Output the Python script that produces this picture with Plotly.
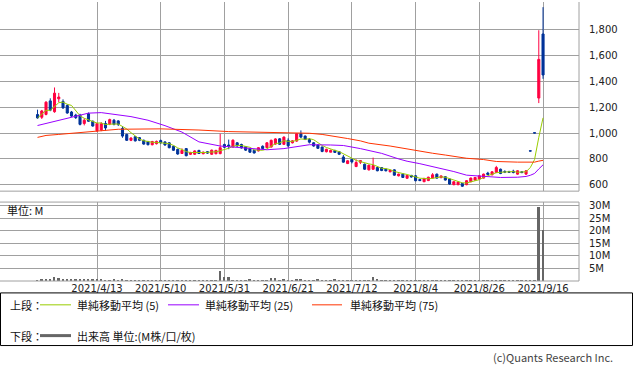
import pandas as pd
import plotly.graph_objects as go

# ---- trading days (Tokyo market, holidays removed) ----
holidays = ["2021-04-29", "2021-05-03", "2021-05-04", "2021-05-05",
            "2021-07-22", "2021-07-23", "2021-08-09"]
days = [d for d in pd.bdate_range("2021-03-24", "2021-09-16").strftime("%Y-%m-%d")
        if d not in holidays]

# ---- OHLC ----
opens = [1144, 1123, 1145, 1250, 1166, 1266, 1246, 1214, 1164, 1140, 1140, 1075, 1150, 1092,
         1018, 1025, 1075, 1070, 1100, 1095, 1036, 990, 944, 972, 965, 944, 935, 910, 918, 942,
         932, 925, 898, 874, 842, 880, 836, 836, 866, 840, 856, 836, 840, 841, 912, 908,
         892, 925, 912, 895, 880, 866, 862, 898, 888, 892, 915, 956, 913, 944, 925, 938,
         995, 977, 951, 925, 908, 892, 856, 852, 866, 856, 815, 764, 797, 741, 774, 759,
         715, 720, 733, 733, 720, 700, 715, 669, 682, 650, 672, 669, 640, 623, 632, 651,
         682, 655, 662, 644, 600, 600, 610, 600, 623, 636, 644, 651, 690, 677, 695, 720,
         702, 702, 705, 682, 700, 682, 863, 1003, 1272, 1769]
highs = [1182, 1180, 1248, 1270, 1354, 1312, 1262, 1224, 1172, 1150, 1150, 1115, 1160, 1098,
         1080, 1085, 1095, 1112, 1110, 1100, 1054, 995, 968, 978, 970, 950, 940, 940, 942, 950,
         936, 930, 902, 880, 882, 884, 855, 866, 870, 858, 860, 872, 870, 995, 918, 950,
         952, 930, 918, 900, 884, 870, 892, 905, 930, 950, 960, 962, 975, 960, 945, 1000,
         1021, 982, 962, 930, 912, 896, 880, 872, 870, 860, 830, 790, 800, 797, 787, 764,
         756, 810, 738, 736, 724, 716, 720, 686, 688, 676, 676, 674, 645, 652, 662, 690,
         686, 672, 666, 648, 627, 625, 614, 636, 656, 660, 674, 686, 700, 704, 746, 725,
         712, 708, 716, 712, 705, 712, 863, 1003, 1798, 1977]
lows = [1112, 1110, 1138, 1170, 1158, 1240, 1188, 1150, 1125, 1110, 1060, 1060, 1088, 1050,
        1010, 1015, 1020, 1062, 1060, 1055, 964, 940, 938, 935, 938, 910, 905, 905, 912, 915,
        902, 882, 862, 832, 838, 820, 830, 832, 838, 836, 840, 832, 836, 836, 885, 875,
        888, 895, 880, 862, 846, 842, 858, 875, 884, 888, 910, 908, 908, 890, 920, 932,
        962, 946, 920, 895, 878, 852, 850, 852, 850, 830, 770, 760, 765, 736, 760, 715,
        710, 715, 704, 705, 703, 696, 670, 664, 652, 646, 655, 626, 628, 620, 628, 648,
        646, 650, 632, 600, 596, 596, 584, 596, 620, 632, 640, 648, 675, 672, 690, 682,
        690, 692, 688, 678, 690, 678, 861, 1001, 1233, 1421]
closes = [1118, 1172, 1240, 1178, 1310, 1280, 1196, 1156, 1132, 1120, 1068, 1100, 1092, 1055,
          1075, 1072, 1040, 1105, 1068, 1068, 977, 944, 962, 940, 944, 915, 910, 935, 936, 926,
          908, 887, 867, 838, 866, 825, 850, 862, 842, 852, 845, 868, 866, 887, 890, 900,
          945, 900, 885, 868, 852, 846, 887, 880, 925, 944, 955, 913, 969, 902, 940, 995,
          969, 951, 930, 900, 882, 858, 874, 866, 850, 836, 775, 785, 777, 772, 787, 720,
          751, 748, 708, 710, 708, 712, 674, 682, 656, 672, 660, 631, 632, 649, 658, 677,
          651, 668, 636, 605, 623, 620, 588, 631, 651, 656, 669, 682, 680, 700, 733, 687,
          698, 696, 695, 708, 694, 708, 861, 1001, 1572, 1451]

# ---- volume, millions ----
volume = [0.3, 0.6, 0.8, 0.8, 1.5, 1.1, 0.9, 0.8, 0.7, 0.7, 0.6, 0.6, 0.5, 0.4,
          0.5, 0.4, 0.3, 0.2, 0.5, 0.3, 0.5, 0.2, 0.1, 0.1, 0.1, 0.1, 0.1, 0.1, 0.1, 0.1,
          0.1, 0.1, 0.1, 0.1, 0.1, 0.1, 0.1, 0.1, 0.1, 0.1, 0.2, 0.3, 0.2, 3.8, 1.5, 1.4,
          0.3, 0.2, 0.2, 0.2, 0.5, 0.2, 0.1, 0.1, 0.1, 1.0, 1.0, 0.3, 0.5, 0.2, 0.2, 0.5,
          0.5, 0.3, 0.2, 0.2, 0.9, 0.3, 0.2, 0.2, 0.5, 0.2, 0.2, 0.2, 0.2, 0.2, 0.2, 0.2,
          0.2, 1.4, 0.6, 0.2, 0.1, 0.1, 0.1, 0.1, 0.1, 0.1, 0.1, 0.1, 0.1, 0.1, 0.1, 0.1,
          0.1, 0.1, 0.1, 0.1, 0.1, 0.1, 0.1, 0.1, 0.1, 0.1, 0.1, 0.1, 0.1, 0.1, 0.1, 0.1,
          0.1, 0.1, 0.1, 0.1, 0.1, 0.1, 0.2, 0.3, 29.3, 20.1]

# ---- moving averages 25 / 75 (read at sample days) ----
ma25_days = ["2021-03-24", "2021-03-30", "2021-04-02", "2021-04-06", "2021-04-09", "2021-04-14",
             "2021-04-20", "2021-04-23", "2021-04-30", "2021-05-11", "2021-05-17", "2021-05-21",
             "2021-05-28", "2021-06-02", "2021-06-07", "2021-06-14", "2021-06-18", "2021-06-24",
             "2021-06-28", "2021-07-05", "2021-07-08", "2021-07-14", "2021-07-21", "2021-07-29",
             "2021-08-02", "2021-08-05", "2021-08-12", "2021-08-18", "2021-08-23", "2021-08-30",
             "2021-09-02", "2021-09-08", "2021-09-09", "2021-09-10", "2021-09-13", "2021-09-14",
             "2021-09-15", "2021-09-16"]
ma25 = [1059, 1090, 1113, 1133, 1155, 1159, 1143, 1128, 1100, 1058, 1008, 932,
        900, 892, 883, 871, 880, 903, 910, 908, 904, 880, 843, 800,
        782, 763, 733, 702, 674, 662, 656, 658, 660, 664, 673, 687,
        722, 754]
ma75_days = ["2021-03-24", "2021-03-26", "2021-03-31", "2021-04-07", "2021-04-09", "2021-04-15",
             "2021-04-20", "2021-05-10", "2021-05-17", "2021-05-21", "2021-06-01", "2021-06-08",
             "2021-06-14", "2021-06-28", "2021-07-01", "2021-07-06", "2021-07-09", "2021-07-14",
             "2021-07-16", "2021-07-27", "2021-07-30", "2021-08-04", "2021-08-11", "2021-08-16",
             "2021-08-23", "2021-08-27", "2021-09-01", "2021-09-08", "2021-09-10", "2021-09-13",
             "2021-09-14", "2021-09-15", "2021-09-16"]
ma75 = [967, 982, 990, 1003, 1010, 1018, 1030, 1033, 1030, 1024, 1012, 1008,
        1002, 999, 990, 976, 958, 940, 922, 900, 882, 866, 844, 830,
        805, 795, 780, 775, 776, 775, 775, 783, 789]

label_days = ["2021-04-13", "2021-05-10", "2021-05-31", "2021-06-21", "2021-07-12",
              "2021-08-04", "2021-08-26", "2021-09-16"]
label_text = ["2021/4/13", "2021/5/10", "2021/5/31", "2021/6/21", "2021/7/12",
              "2021/8/4", "2021/8/26", "2021/9/16"]
price_ticks = [600, 800, 1000, 1200, 1400, 1600, 1800]
vol_ticks = [5, 10, 15, 20, 25, 30]

ma5 = pd.Series(closes).rolling(5, min_periods=1).mean().tolist()

RED = "#ff0040"
BLUE = "#003399"
GREEN = "#99cc00"
PURPLE = "#9900ff"
ORANGE = "#ff3300"
GRID = "#a0a0a0"

W, H = 633, 374
ML, MR, MT, MB = 0, 54, 0, 93
PW, PH = W - ML - MR, H - MT - MB


def px(xp):
    return (xp - ML) / PW


def py(yp):
    return (PH + MT - yp) / PH


fig = go.Figure()
fig.add_trace(go.Candlestick(
    x=days, open=opens, high=highs, low=lows, close=closes,
    increasing=dict(line=dict(color=RED, width=1), fillcolor=RED),
    decreasing=dict(line=dict(color=BLUE, width=1), fillcolor=BLUE),
    whiskerwidth=0, xaxis="x2", yaxis="y", showlegend=False, hoverinfo="skip"))
fig.add_trace(go.Scatter(x=days, y=ma5, mode="lines", line=dict(color=GREEN, width=1),
                         xaxis="x2", yaxis="y", showlegend=False, hoverinfo="skip"))
fig.add_trace(go.Scatter(x=ma25_days, y=ma25, mode="lines", line=dict(color=PURPLE, width=1),
                         xaxis="x2", yaxis="y", showlegend=False, hoverinfo="skip"))
fig.add_trace(go.Scatter(x=ma75_days, y=ma75, mode="lines", line=dict(color=ORANGE, width=1),
                         xaxis="x2", yaxis="y", showlegend=False, hoverinfo="skip"))
fig.add_trace(go.Bar(x=days, y=volume, marker=dict(color="#666666", line=dict(width=0)),
                     width=0.45, xaxis="x", yaxis="y2", showlegend=False, hoverinfo="skip"))

i0 = days.index("2021-04-13")
xr = [i0 - 97 / 4.248, i0 + (PW - 97) / 4.248]
top_lo = py(190.5)
vol_hi = py(201.5)
tickfont = dict(family="DejaVu Sans", size=10, color="#222222")

common_x = dict(type="category", categoryorder="array", categoryarray=days, range=xr,
                tickmode="array", tickvals=label_days, showgrid=True, gridcolor=GRID,
                gridwidth=1, zeroline=False, showline=False, ticks="")
fig.update_layout(
    width=W, height=H, margin=dict(l=ML, r=MR, t=MT, b=MB),
    paper_bgcolor="white", plot_bgcolor="white", bargap=0,
    xaxis=dict(common_x, anchor="y2", ticktext=label_text, tickfont=tickfont),
    xaxis2=dict(common_x, anchor="y", matches="x", showticklabels=False,
                rangeslider=dict(visible=False)),
    yaxis=dict(domain=[top_lo, 1], range=[550, 2017], side="right", tickmode="array",
               tickvals=price_ticks, ticktext=[f"{v:,}" for v in price_ticks],
               showgrid=True, gridcolor=GRID, zeroline=False, tickfont=tickfont,
               ticklabelstandoff=9, anchor="x2"),
    yaxis2=dict(domain=[0, vol_hi], range=[0, 31.4], side="right", tickmode="array",
                tickvals=vol_ticks, ticktext=[f"{v}M" for v in vol_ticks],
                showgrid=True, gridcolor=GRID, zeroline=False, tickfont=tickfont,
                ticklabelstandoff=9, anchor="x"),
)

line = dict(color=GRID, width=1)
shapes = [
    dict(type="line", xref="paper", yref="paper", x0=0, x1=1, y0=top_lo, y1=top_lo, line=line),
    dict(type="line", xref="paper", yref="paper", x0=1, x1=1, y0=top_lo, y1=1, line=line),
    dict(type="line", xref="paper", yref="paper", x0=0, x1=1, y0=vol_hi, y1=vol_hi, line=line),
    dict(type="line", xref="paper", yref="paper", x0=0, x1=1, y0=0, y1=0, line=line),
    dict(type="line", xref="paper", yref="paper", x0=1, x1=1, y0=0, y1=vol_hi, line=line),
    dict(type="rect", xref="paper", yref="paper", x0=px(0.5), x1=px(632.5), y0=py(293), y1=py(346),
         line=dict(color="black", width=1)),
    dict(type="line", xref="paper", yref="paper", x0=px(40), x1=px(71), y0=py(305), y1=py(305),
         line=dict(color=GREEN, width=1)),
    dict(type="line", xref="paper", yref="paper", x0=px(168), x1=px(199), y0=py(305), y1=py(305),
         line=dict(color=PURPLE, width=1)),
    dict(type="line", xref="paper", yref="paper", x0=px(312), x1=px(342), y0=py(305), y1=py(305),
         line=dict(color=ORANGE, width=1)),
    dict(type="line", xref="paper", yref="paper", x0=px(40), x1=px(71), y0=py(336), y1=py(336),
         line=dict(color="#666666", width=3)),
]
fig.update_layout(shapes=shapes)

jp = dict(family="Noto Sans CJK JP", size=11, color="#111111")


def note(text, x, y, anchor="left", font=jp):
    fig.add_annotation(text=text, x=px(x), y=py(y), xref="paper", yref="paper",
                       xanchor=anchor, yanchor="middle", showarrow=False, font=font)


note("単位: M", 5, 209)
note("上段：", 8, 305)
note("単純移動平均 (5)", 75, 305)
note("単純移動平均 (25)", 203, 305)
note("単純移動平均 (75)", 348, 305)
note("下段：", 8, 336)
note("出来高 単位:(M株/口/枚)", 75, 336)
note("(c)Quants Research Inc.", 615, 358, anchor="right",
     font=dict(family="Noto Sans CJK JP", size=11, color="#444444"))

fig.write_html("out.html", config={"displayModeBar": False},
               post_script="document.body.style.margin='0px';document.body.style.overflow='hidden';")
